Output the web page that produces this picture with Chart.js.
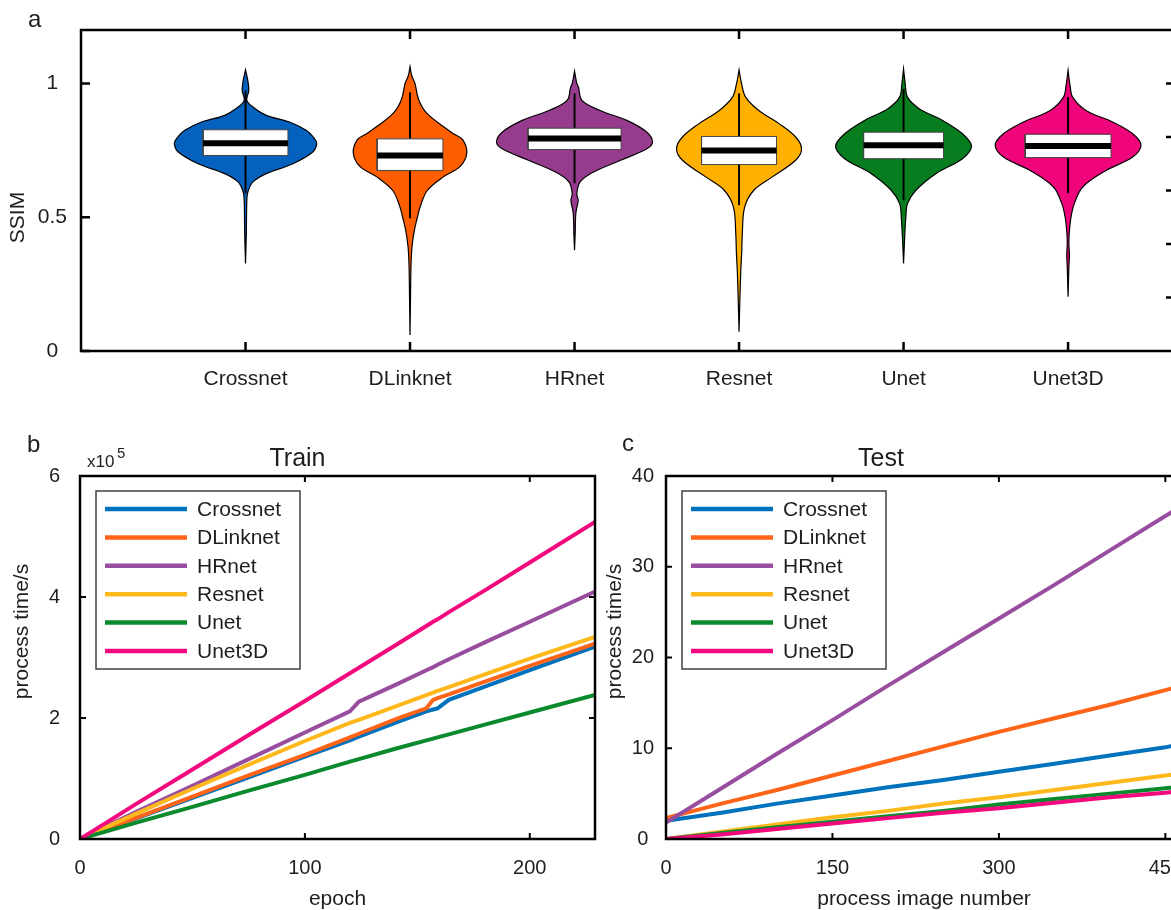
<!DOCTYPE html>
<html>
<head>
<meta charset="utf-8">
<title>SSIM and process time</title>
<script src="https://cdn.jsdelivr.net/npm/chart.js@4.4.0/dist/chart.umd.min.js"></script>
<style>
  html, body { margin: 0; padding: 0; background: #fff; overflow: hidden; }
  #page { position: relative; width: 1171px; height: 910px; overflow: hidden; }
  #page canvas { position: absolute; }
</style>
</head>
<body>
<div id="page">
  <canvas id="violinChart" width="1240" height="410" style="left:0;top:0"></canvas>
  <canvas id="trainChart" width="620" height="490" style="left:0;top:420px"></canvas>
  <canvas id="testChart" width="620" height="490" style="left:580px;top:420px"></canvas>
</div>
<script>
// ---- data ----
const models = ['Crossnet', 'DLinknet', 'HRnet', 'Resnet', 'Unet', 'Unet3D'];

// violin outlines, [SSIM, half width in category units], bottom to top
const crossnetViolin = [[0.327, 0], [0.44, 0.005], [0.563, 0.008], [0.594, 0.014], [0.632, 0.045], [0.663, 0.126], [0.70, 0.288], [0.744, 0.409], [0.775, 0.433], [0.794, 0.419], [0.825, 0.369], [0.856, 0.267], [0.881, 0.126], [0.912, 0.045], [0.937, 0.008], [0.974, 0.02], [1.011, 0.014], [1.051, 0]];
const dlinknetViolin = [[0.06, 0], [0.2, 0.003], [0.32, 0.006], [0.39, 0.012], [0.45, 0.026], [0.50, 0.045], [0.54, 0.062], [0.60, 0.105], [0.65, 0.2], [0.69, 0.305], [0.74, 0.345], [0.79, 0.32], [0.81, 0.27], [0.84, 0.2], [0.89, 0.1], [0.94, 0.052], [1.0, 0.03], [1.03, 0.01], [1.063, 0]];
const hrnetViolin = [[0.377, 0], [0.44, 0.004], [0.515, 0.008], [0.563, 0.022], [0.588, 0.014], [0.632, 0.034], [0.669, 0.115], [0.713, 0.28], [0.756, 0.44], [0.781, 0.474], [0.818, 0.44], [0.862, 0.318], [0.899, 0.156], [0.937, 0.045], [0.986, 0.024], [1.005, 0.012], [1.046, 0]];
const resnetViolin = [[0.072, 0], [0.19, 0.005], [0.291, 0.01], [0.366, 0.016], [0.44, 0.02], [0.538, 0.034], [0.601, 0.09], [0.65, 0.2], [0.713, 0.344], [0.756, 0.38], [0.80, 0.344], [0.85, 0.243], [0.899, 0.12], [0.949, 0.04], [1.0, 0.015], [1.051, 0]];
const unetViolin = [[0.327, 0], [0.414, 0.006], [0.501, 0.014], [0.551, 0.024], [0.601, 0.075], [0.663, 0.196], [0.719, 0.358], [0.765, 0.413], [0.812, 0.358], [0.862, 0.237], [0.906, 0.095], [0.949, 0.024], [1.0, 0.01], [1.055, 0]];
const unet3dViolin = [[0.203, 0], [0.315, 0.005], [0.358, 0.008], [0.40, 0.005], [0.44, 0.007], [0.501, 0.018], [0.551, 0.038], [0.613, 0.089], [0.675, 0.231], [0.725, 0.393], [0.769, 0.443], [0.812, 0.393], [0.856, 0.271], [0.899, 0.109], [0.949, 0.028], [0.993, 0.012], [1.049, 0]];

const boxQ1 = [0.731, 0.675, 0.753, 0.697, 0.719, 0.723];
const boxMedian = [0.777, 0.731, 0.794, 0.750, 0.769, 0.766];
const boxQ3 = [0.827, 0.793, 0.833, 0.802, 0.818, 0.810];
const whiskerLow = [0.59, 0.496, 0.627, 0.545, 0.563, 0.59];
const whiskerHigh = [0.974, 0.967, 0.963, 0.963, 0.98, 0.949];
const ssimTicks = [0, 0.5, 1];
const ssimRightTicks = [0.2, 0.4, 0.6, 0.8, 1];

// panel b, cumulative time in units of 10^5 s
const trainEpochs = [0, 25, 50, 75, 100, 120, 124, 141, 154, 157, 159, 164, 180, 200, 229];
const trainCrossnet = [0, 0.34, 0.68, 1.02, 1.36, 1.63, 1.69, 1.93, 2.11, 2.14, 2.16, 2.30, 2.52, 2.79, 3.18];
const trainDLinknet = [0, 0.35, 0.70, 1.05, 1.39, 1.68, 1.74, 1.99, 2.16, 2.30, 2.33, 2.39, 2.60, 2.86, 3.23];
const trainHRnet = [0, 0.45, 0.88, 1.32, 1.76, 2.11, 2.27, 2.56, 2.79, 2.84, 2.88, 2.97, 3.25, 3.59, 4.09];
const trainResnet = [0, 0.42, 0.83, 1.23, 1.62, 1.92, 1.97, 2.20, 2.38, 2.42, 2.45, 2.51, 2.72, 2.98, 3.34];
const trainUnet = [0, 0.27, 0.53, 0.80, 1.06, 1.28, 1.32, 1.50, 1.63, 1.66, 1.68, 1.73, 1.89, 2.09, 2.38];
const trainUnet3D = [0, 0.58, 1.15, 1.72, 2.28, 2.74, 2.83, 3.22, 3.52, 3.59, 3.63, 3.75, 4.11, 4.57, 5.24];
const trainXTicks = [0, 100, 200];
const trainYTicks = [0, 2, 4, 6];

// panel c, time in s
const testImages = [0, 50, 100, 150, 200, 250, 300, 350, 400, 450, 465];
const testCrossnet = [2.0, 2.9, 3.9, 4.8, 5.7, 6.5, 7.4, 8.3, 9.2, 10.1, 10.5];
const testDLinknet = [2.3, 3.9, 5.4, 7.0, 8.6, 10.2, 11.8, 13.3, 14.8, 16.4, 16.9];
const testHRnet = [1.8, 5.6, 9.4, 13.1, 16.9, 20.6, 24.3, 28.0, 31.8, 35.6, 36.7];
const testResnet = [0, 0.8, 1.6, 2.4, 3.1, 3.9, 4.6, 5.4, 6.2, 7.0, 7.2];
const testUnet = [0, 0.65, 1.3, 1.9, 2.5, 3.1, 3.8, 4.4, 5.0, 5.6, 5.8];
const testUnet3D = [0, 0.5, 1.1, 1.7, 2.3, 2.9, 3.4, 4.0, 4.6, 5.1, 5.3];
const testXTicks = [0, 150, 300, 450];
const testYTicks = [0, 10, 20, 30, 40];

// ---- styles ----
const FONT = '"Liberation Sans", Arial, sans-serif';
const TEXT = '#1e1e1e';
const violinColors = ['#0561be', '#ff5e00', '#973b8e', '#ffb000', '#077d1f', '#ef047b'];
const lineColors = ['#0072bd', '#ff6418', '#984d9f', '#ffb81c', '#0a8a2c', '#f2097d'];
const boxHalfWidth = [0.258, 0.20, 0.283, 0.228, 0.243, 0.261];

Chart.defaults.font.family = FONT;
Chart.defaults.color = TEXT;

// box frame with inward ticks, like the original figure
const framePlugin = {
    id: 'frame',
    afterDatasetsDraw(chart, args, opts) {
        const { ctx, chartArea: a, scales } = chart;
        const len = opts.tickLength;
        ctx.save();
        ctx.strokeStyle = '#000';
        ctx.lineWidth = opts.tickWidth;
        ctx.beginPath();
        scales.x.ticks.forEach(t => {
            const px = scales.x.getPixelForValue(t.value);
            ctx.moveTo(px, a.bottom); ctx.lineTo(px, a.bottom - len);
            ctx.moveTo(px, a.top); ctx.lineTo(px, a.top + len);
        });
        scales.y.ticks.forEach(t => {
            const py = scales.y.getPixelForValue(t.value);
            ctx.moveTo(a.left, py); ctx.lineTo(a.left + len, py);
            if (!scales.y2) { ctx.moveTo(a.right, py); ctx.lineTo(a.right - len, py); }
        });
        if (scales.y2) {
            scales.y2.ticks.forEach(t => {
                const py = scales.y2.getPixelForValue(t.value);
                ctx.moveTo(a.right, py); ctx.lineTo(a.right - len, py);
            });
        }
        ctx.stroke();
        ctx.lineWidth = opts.frameWidth;
        ctx.strokeRect(a.left, a.top, a.right - a.left, a.bottom - a.top);
        ctx.restore();
    }
};

// panel letter, axis titles and exponent
const textPlugin = {
    id: 'panelText',
    afterDraw(chart, args, opts) {
        const { ctx, chartArea: a } = chart;
        ctx.save();
        ctx.fillStyle = TEXT;
        ctx.textBaseline = 'alphabetic';
        ctx.font = '24px ' + FONT;
        ctx.textAlign = 'left';
        ctx.fillText(opts.letter, opts.letterX, opts.letterY);
        ctx.font = '21px ' + FONT;
        if (opts.xTitle) {
            ctx.textAlign = 'center';
            ctx.fillText(opts.xTitle, (a.left + a.right) / 2, a.bottom + opts.xTitleOffset);
        }
        if (opts.exponent) {
            ctx.textAlign = 'left';
            ctx.font = '17px ' + FONT;
            ctx.fillText('x10', a.left + 7, a.top - 9);
            ctx.font = '15px ' + FONT;
            ctx.fillText(opts.exponent, a.left + 37, a.top - 18);
        }
        ctx.font = '21px ' + FONT;
        ctx.translate(a.left + opts.yTitleDx, (a.top + a.bottom) / 2 + opts.yTitleDy);
        ctx.rotate(-Math.PI / 2);
        ctx.textAlign = 'center';
        ctx.textBaseline = 'middle';
        ctx.fillText(opts.yTitle, 0, 0);
        ctx.restore();
    }
};

// boxed legend in the upper left of the plot
const legendPlugin = {
    id: 'boxLegend',
    afterDraw(chart, args, opts) {
        const { ctx, chartArea: a } = chart;
        const x0 = a.left + 16, y0 = a.top + 15;
        ctx.save();
        ctx.fillStyle = '#fff';
        ctx.fillRect(x0, y0, 204, 178);
        ctx.strokeStyle = '#404040';
        ctx.lineWidth = 1.5;
        ctx.strokeRect(x0, y0, 204, 178);
        ctx.font = '21px ' + FONT;
        ctx.textAlign = 'left';
        ctx.textBaseline = 'middle';
        chart.data.datasets.forEach((ds, i) => {
            const y = y0 + 18 + i * 28.4;
            ctx.strokeStyle = ds.borderColor;
            ctx.lineWidth = 4.5;
            ctx.beginPath();
            ctx.moveTo(x0 + 9, y); ctx.lineTo(x0 + 91, y);
            ctx.stroke();
            ctx.fillStyle = TEXT;
            ctx.fillText(ds.label, x0 + 101, y + 1);
        });
        ctx.restore();
    }
};

function fixedTicks(list) {
    return scale => { scale.ticks = list.map(v => ({ value: v })); };
}

const noGrid = { display: false, drawTicks: false };

// ---- panel a: violins ----
const violinProfiles = [crossnetViolin, dlinknetViolin, hrnetViolin, resnetViolin, unetViolin, unet3dViolin];
const violinSets = [];
violinProfiles.forEach((profile, i) => {
    const c = i + 1;
    const bw = boxHalfWidth[i];
    const right = profile.map(([v, w]) => ({ x: c + w, y: v }));
    const left = profile.slice().reverse().map(([v, w]) => ({ x: c - w, y: v }));
    violinSets.push({
        label: models[i], data: right.concat(left), fill: 'shape',
        backgroundColor: violinColors[i], borderColor: '#000', borderWidth: 1.2,
        tension: 0.35, pointRadius: 0, order: 40
    });
    violinSets.push({
        data: [{ x: c, y: whiskerLow[i] }, { x: c, y: whiskerHigh[i] }],
        borderColor: '#000', borderWidth: 2, pointRadius: 0, fill: false, order: 30
    });
    violinSets.push({
        data: [{ x: c - bw, y: boxQ1[i] }, { x: c + bw, y: boxQ1[i] }, { x: c + bw, y: boxQ3[i] },
               { x: c - bw, y: boxQ3[i] }, { x: c - bw, y: boxQ1[i] }],
        fill: 'shape', backgroundColor: '#fff', borderColor: '#444', borderWidth: 1,
        tension: 0, pointRadius: 0, order: 20
    });
    violinSets.push({
        data: [{ x: c - bw, y: boxMedian[i] }, { x: c + bw, y: boxMedian[i] }],
        borderColor: '#000', borderWidth: 6, borderCapStyle: 'butt', pointRadius: 0, fill: false, order: 10
    });
});

new Chart(document.getElementById('violinChart'), {
    type: 'line',
    data: { datasets: violinSets },
    plugins: [framePlugin, textPlugin],
    options: {
        responsive: false,
        animation: false,
        devicePixelRatio: 1,
        layout: { padding: { top: 30, right: 65, left: 0, bottom: 0 } },
        plugins: {
            legend: { display: false },
            tooltip: { enabled: false },
            frame: { tickLength: 9, tickWidth: 2.5, frameWidth: 2.5 },
            panelText: { letter: 'a', letterX: 28, letterY: 27, yTitle: 'SSIM', yTitleDx: -63, yTitleDy: 27 }
        },
        scales: {
            x: {
                type: 'linear', min: 0, max: 6.65,
                grid: noGrid, border: { display: false },
                afterBuildTicks: fixedTicks(models.map((m, i) => i + 1)),
                afterFit: s => { s.height = 59; },
                ticks: { callback: v => models[v - 1] || '', font: { size: 21 }, padding: 16, autoSkip: false, maxRotation: 0 }
            },
            y: {
                position: 'left', min: 0, max: 1.2,
                grid: noGrid, border: { display: false },
                afterBuildTicks: fixedTicks(ssimTicks),
                afterFit: s => { s.width = 81; },
                ticks: { callback: v => String(v), font: { size: 21 }, padding: 14, crossAlign: 'center' }
            },
            y2: {
                position: 'right', min: 0, max: 1.2,
                grid: noGrid, border: { display: false },
                afterBuildTicks: fixedTicks(ssimRightTicks),
                afterFit: s => { s.width = 0; },
                ticks: { display: false }
            }
        }
    }
});

// ---- panels b and c: line charts ----
function lineSets(xs, series) {
    return series.map((ys, i) => ({
        label: models[i],
        data: xs.map((x, k) => ({ x: x, y: ys[k] })),
        borderColor: lineColors[i],
        borderWidth: 4,
        pointRadius: 0,
        tension: 0,
        fill: false,
        order: models.length - i
    }));
}

function lineOptions(cfg) {
    return {
        responsive: false,
        animation: false,
        devicePixelRatio: 1,
        layout: { padding: { top: 0, right: cfg.padRight, left: 0, bottom: 0 } },
        plugins: {
            legend: { display: false },
            tooltip: { enabled: false },
            title: {
                display: true, text: cfg.title, color: TEXT,
                font: { size: 25, weight: 'normal' }, padding: { top: 24, bottom: 2 }
            },
            frame: { tickLength: 6, tickWidth: 2, frameWidth: 2.5 },
            panelText: cfg.text
        },
        scales: {
            x: {
                type: 'linear', min: 0, max: cfg.xMax,
                grid: noGrid, border: { display: false },
                afterBuildTicks: fixedTicks(cfg.xTicks),
                afterFit: s => { s.height = 71; },
                ticks: { font: { size: 20 }, padding: 17, autoSkip: false, maxRotation: 0 }
            },
            y: {
                min: 0, max: cfg.yMax,
                grid: noGrid, border: { display: false },
                afterBuildTicks: fixedTicks(cfg.yTicks),
                afterFit: s => { s.width = cfg.yWidth; },
                ticks: { font: { size: 20 }, padding: cfg.yPad, crossAlign: 'center' }
            }
        }
    };
}

new Chart(document.getElementById('trainChart'), {
    type: 'line',
    data: { datasets: lineSets(trainEpochs, [trainCrossnet, trainDLinknet, trainHRnet, trainResnet, trainUnet, trainUnet3D]) },
    plugins: [framePlugin, textPlugin, legendPlugin],
    options: lineOptions({
        title: 'Train', xMax: 229, yMax: 6, xTicks: trainXTicks, yTicks: trainYTicks,
        padRight: 25, yWidth: 80, yPad: 20,
        text: { letter: 'b', letterX: 27, letterY: 32, xTitle: 'epoch', xTitleOffset: 66,
                yTitle: 'process time/s', yTitleDx: -58, yTitleDy: -26, exponent: '5' }
    })
});

new Chart(document.getElementById('testChart'), {
    type: 'line',
    data: { datasets: lineSets(testImages, [testCrossnet, testDLinknet, testHRnet, testResnet, testUnet, testUnet3D]) },
    plugins: [framePlugin, textPlugin, legendPlugin],
    options: lineOptions({
        title: 'Test', xMax: 465, yMax: 40, xTicks: testXTicks, yTicks: testYTicks,
        padRight: 18, yWidth: 86, yPad: 12,
        text: { letter: 'c', letterX: 42, letterY: 31, xTitle: 'process image number', xTitleOffset: 66,
                yTitle: 'process time/s', yTitleDx: -51, yTitleDy: -26 }
    })
});
</script>
</body>
</html>
